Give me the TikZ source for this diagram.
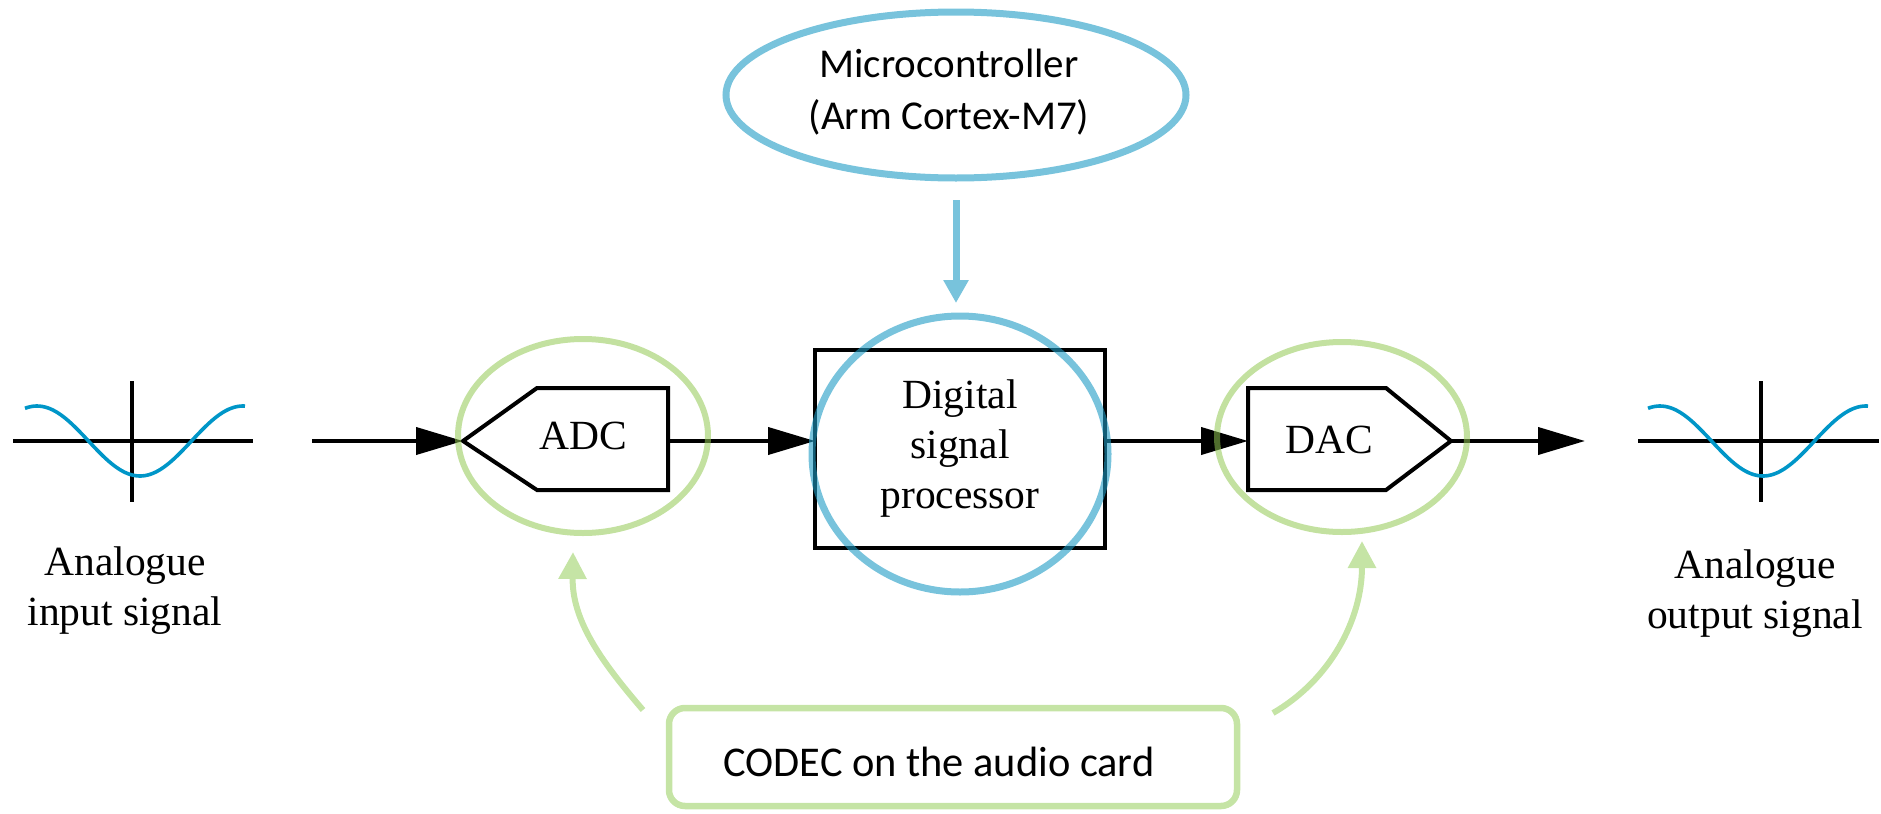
\documentclass[tikz,border=0pt]{standalone}
\usepackage{fontspec}
\setmainfont{Liberation Serif}
\newfontfamily\labelsans{Carlito}
\usetikzlibrary{arrows.meta,shapes.geometric}

\definecolor{wavecol}{RGB}{0,150,200}
\definecolor{mcublue}{RGB}{30,155,197}
\definecolor{mcublueflat}{RGB}{120,195,220}
\definecolor{codecgreen}{RGB}{146,200,82}
\definecolor{codecgreenflat}{RGB}{197,228,165}

\tikzset{
  axisline/.style={line width=1.7pt},
  wave/.style={draw=wavecol, line width=1.8pt},
  blockline/.style={line width=2pt, line join=miter},
  sigarrow/.style={line width=2pt, -{Triangle[length=23.5pt,width=13.5pt]}},
  serifbig/.style={font=\fontsize{20.75}{25}\selectfont, align=center},
  ring/.style={ellipse, draw, outer sep=0pt, inner sep=0pt},
  greenring/.style={ring, draw=codecgreen, draw opacity=0.55, line width=3pt},
  bluering/.style={ring, draw=mcublue, draw opacity=0.6, line width=3.5pt},
  mcuarrow/.style={draw=mcublueflat, line width=3.5pt, -{Triangle[length=11.5pt,width=12pt]}},
  codecarrow/.style={draw=codecgreenflat, line width=3pt, -{Triangle[length=13.5pt,width=13.5pt]}},
}

\begin{document}
\begin{tikzpicture}[x=0.5pt,y=-0.5pt]
\useasboundingbox (0,0) rectangle (1881,814);

% input waveform
\draw[axisline] (13,441) -- (253,441);
\draw[axisline] (132,381) -- (132,502);
\draw[wave] plot[domain=25:245, samples=80, smooth] (\x, {441+35*cos((\x-140)*1.74757)});
\node[serifbig, anchor=base] (inlabel) at (125,625) {Analogue\\input signal};

% output waveform
\draw[axisline] (1638,441) -- (1879,441);
\draw[axisline] (1761,381) -- (1761,502);
\draw[wave] plot[domain=1648:1868, samples=80, smooth] (\x, {441+35*cos((\x-1763)*1.74757)});
\node[serifbig, anchor=base] (outlabel) at (1755,628) {Analogue\\output signal};

% ADC block
\draw[blockline] (537,388) -- (668,388) -- (668,490) -- (537,490) -- (463,441) -- cycle;
\coordinate (adcin) at (463,441);
\coordinate (adcout) at (668,441);
\node[serifbig] (adc) at (583,436) {ADC};

% DAC block
\draw[blockline] (1248,388) -- (1386,388) -- (1451,441) -- (1386,490) -- (1248,490) -- cycle;
\coordinate (dacin) at (1248,441);
\coordinate (dacout) at (1451,441);
\node[serifbig] (dac) at (1329,440) {DAC};

% digital signal processor
\node[draw, blockline, minimum width=145pt, minimum height=99pt, outer sep=0pt, serifbig] (dsp) at (960,449) {Digital\\signal\\processor};

% signal path
\coordinate (insrc) at (312,441);
\coordinate (outsink) at (1585,441);
\draw[sigarrow] (insrc) -- (adcin);
\draw[sigarrow] (adcout) -- (adcout -| dsp.west);
\draw[sigarrow] (dsp.east |- dacin) -- (dacin);
\draw[sigarrow] (dacout) -- (outsink);

% microcontroller
\node[bluering, minimum width=230pt, minimum height=83pt] (mcu) at (956,95) {};
\node[align=center, font=\labelsans\fontsize{20.5}{26}\selectfont] (mcutext) at (949,92) {Microcontroller\\(Arm Cortex-M7)};
\node[bluering, minimum width=148pt, minimum height=138pt] (dspring) at (960,454) {};
\draw[mcuarrow, shorten <=11pt, shorten >=6.5pt] (mcu.south) -- (mcu.south |- dspring.north);

% codec
\node[greenring, minimum width=125pt, minimum height=97pt] (adcring) at (583,436) {};
\node[greenring, minimum width=125pt, minimum height=95pt] (dacring) at (1342,437) {};
\node[draw=codecgreenflat, line width=3.25pt, rounded corners=8pt, minimum width=284pt,
      minimum height=49pt, outer sep=0pt, inner sep=0pt] (codec) at (953,757) {};
\node[font=\labelsans\fontsize{21.2}{25}\selectfont, anchor=base] (codectext) at (939,776) {CODEC on the audio card};
\draw[codecarrow] ([shift={(-26,2)}]codec.north west) .. controls +(-43,-50) and +(-1,68) .. ([shift={(-10,19)}]adcring.south);
\draw[codecarrow] ([shift={(36,5)}]codec.north east) .. controls +(57,-33) and +(0,79) .. ([shift={(20,9)}]dacring.south);
\end{tikzpicture}
\end{document}
